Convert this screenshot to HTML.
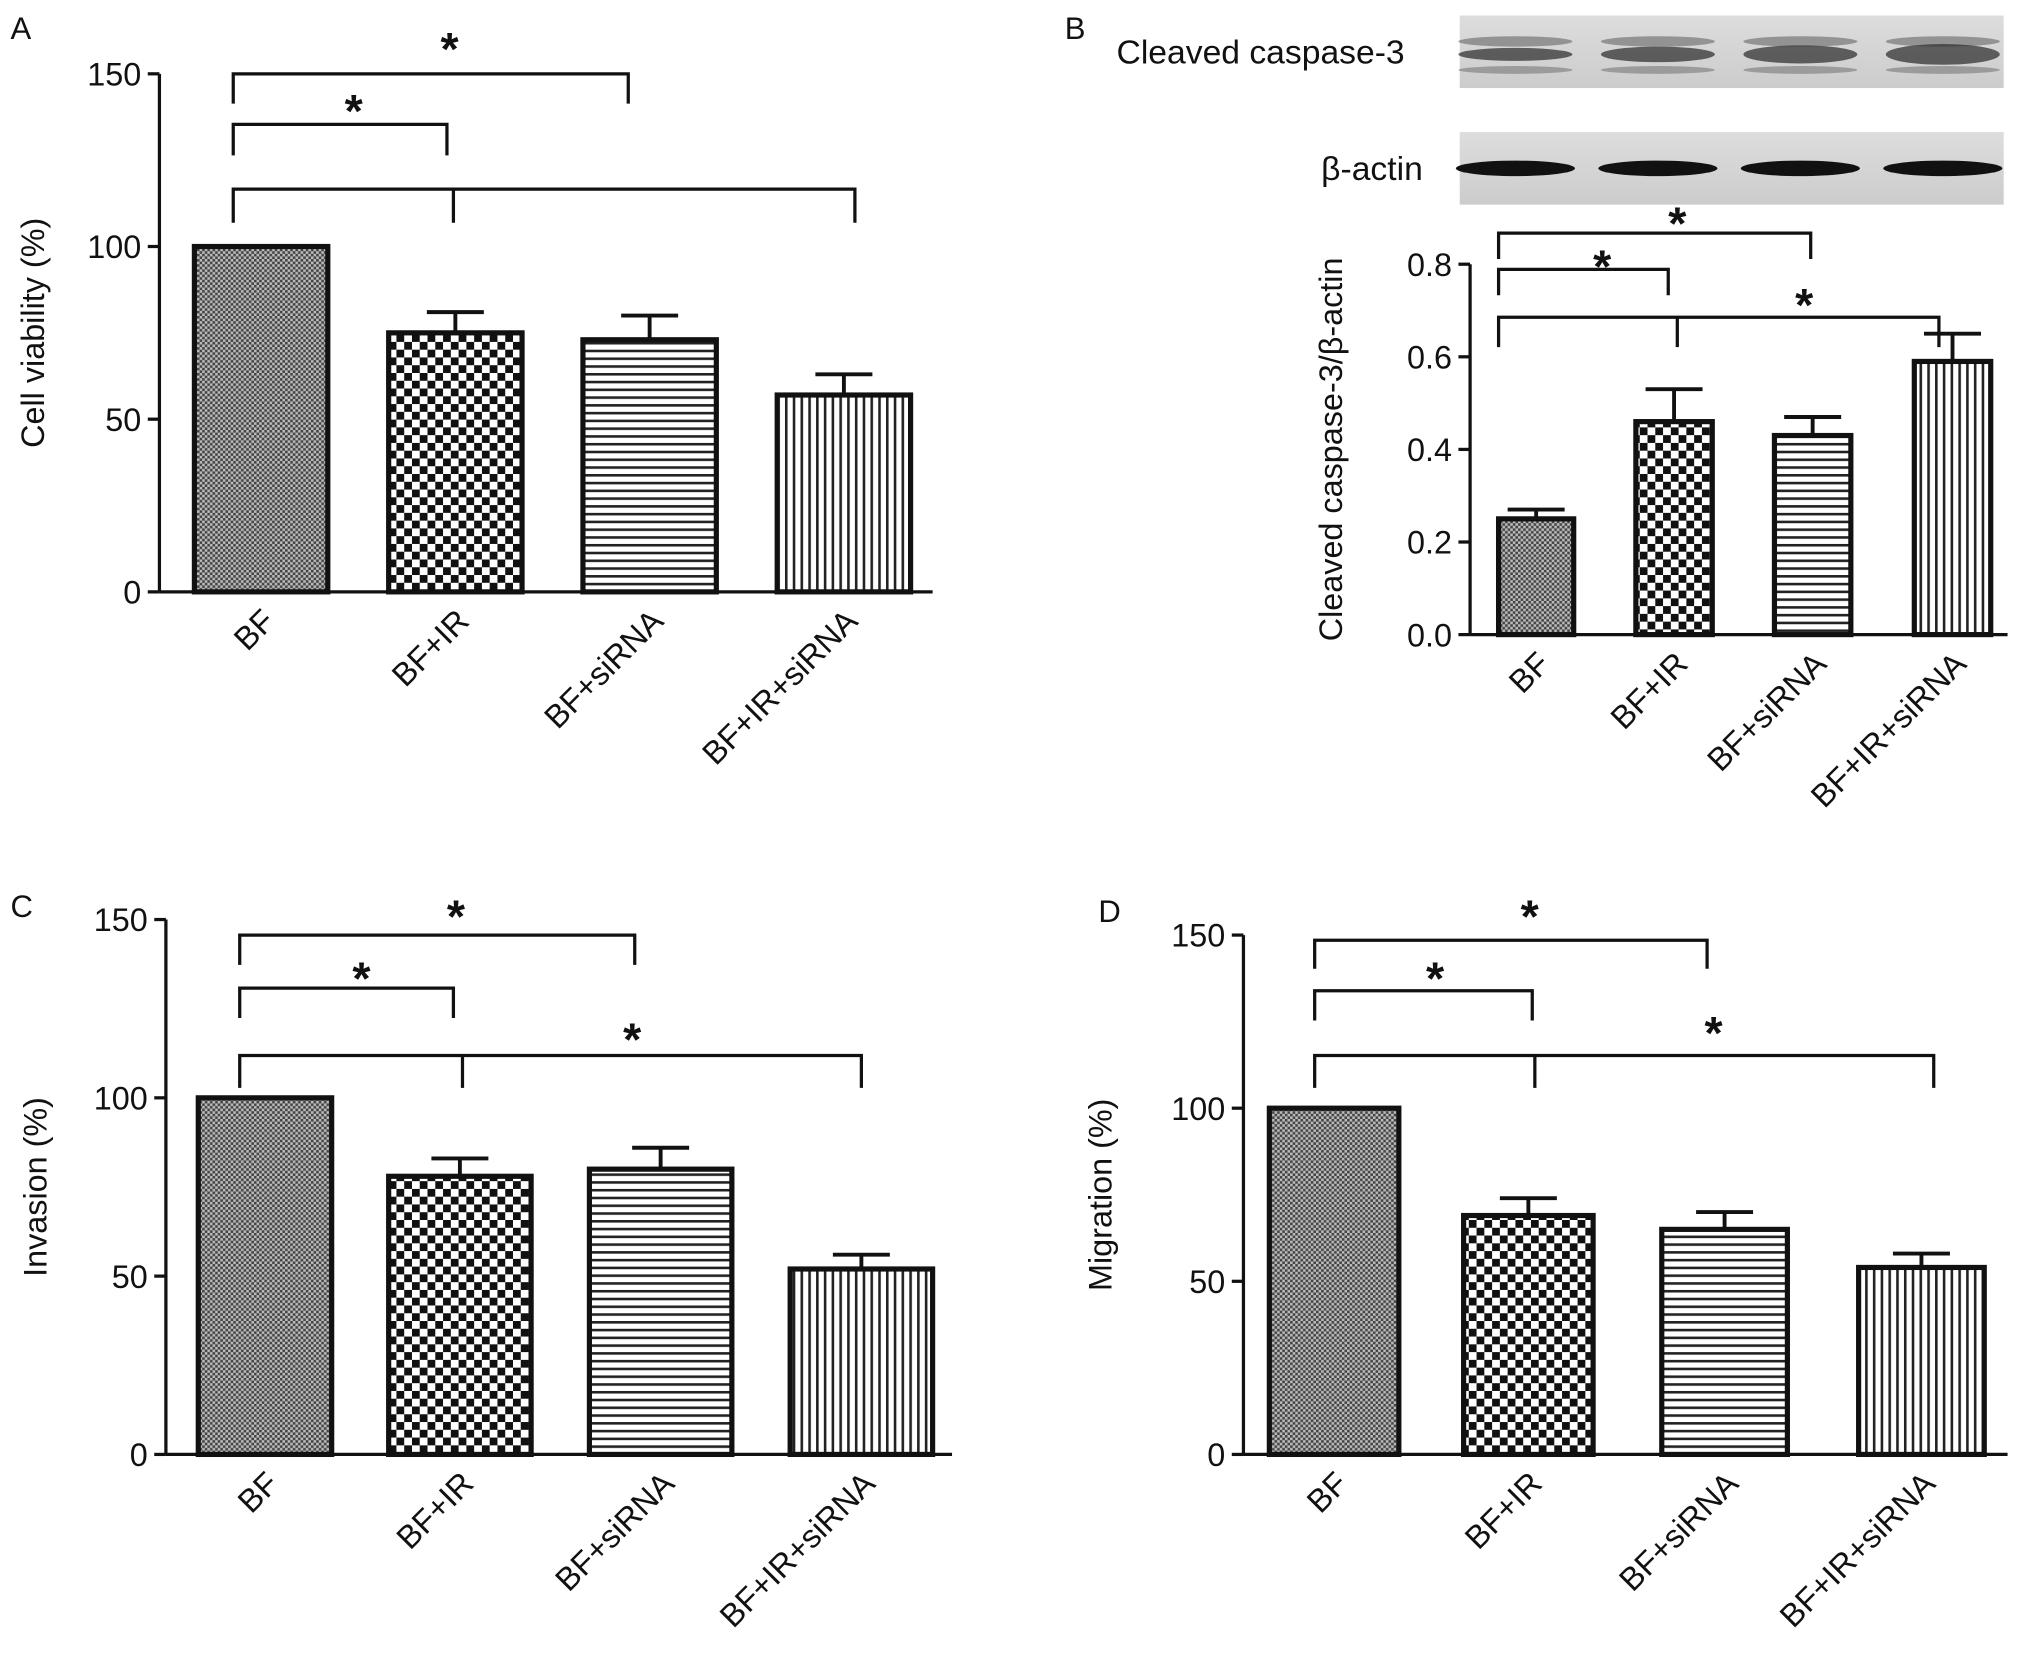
<!DOCTYPE html>
<html><head><meta charset="utf-8"><style>
html,body{margin:0;padding:0;background:#fff}
svg{display:block}
text{font-family:"Liberation Sans",sans-serif;fill:#111}
</style></head><body>
<svg id="fig" width="2031" height="1672" viewBox="0 0 1568 1291" xmlns="http://www.w3.org/2000/svg">
<defs>
<pattern id="p0" width="4" height="4" patternUnits="userSpaceOnUse"><rect width="4" height="4" fill="#bbb"/><rect width="2" height="2" fill="#444"/><rect x="2" y="2" width="2" height="2" fill="#444"/></pattern>
<pattern id="p1" width="12" height="12" patternUnits="userSpaceOnUse"><rect width="12" height="12" fill="#fff"/><rect width="6" height="6" fill="#111"/><rect x="6" y="6" width="6" height="6" fill="#111"/></pattern>
<pattern id="p2" width="6" height="6" patternUnits="userSpaceOnUse"><rect width="6" height="6" fill="#fff"/><rect width="6" height="2" fill="#222"/></pattern>
<pattern id="p3" width="6" height="6" patternUnits="userSpaceOnUse"><rect width="6" height="6" fill="#fff"/><rect width="2" height="6" fill="#222"/></pattern>
<linearGradient id="blot" x1="0" y1="0" x2="0" y2="1"><stop offset="0" stop-color="#ddd"/><stop offset="1" stop-color="#ccc"/></linearGradient>
</defs>
<g id="root"></g>
</svg>
<script>
const categories=["BF","BF+IR","BF+siRNA","BF+IR+siRNA"];
const valuesA=[100,75,73,57];
const errorsA=[0,81,80,63];
const valuesB=[0.25,0.46,0.43,0.59];
const errorsB=[0.27,0.53,0.47,0.65];
const valuesC=[100,78,80,52];
const errorsC=[0,83,86,56];
const valuesD=[100,69,65,54];
const errorsD=[0,74,70,58];
const ticksPct=[0,50,100,150];
const ticksB=["0.0","0.2","0.4","0.6","0.8"];

const NS="http://www.w3.org/2000/svg";
const root=document.getElementById('root');
function mk(tag,attrs,parent,txt){const e=document.createElementNS(NS,tag);for(const k in attrs)e.setAttribute(k,attrs[k]);if(txt!==undefined)e.textContent=txt;(parent||root).appendChild(e);return e;}

const panels=[
 {id:'a',letter:'A',lx:8,ly:30,ax:123,y0:457,y1:57,vmax:150,ticks:ticksPct,tl:ticksPct.map(String),vals:valuesA,errs:errorsA,bars:[[150,253],[300,403],[450,553],[600,703]],xend:720,title:'Cell viability (%)',tx:34,
  br:[[57,180,485,80,null,347,30],[96,180,345,120,null,273,78],[146,180,660,172,350,null,null]]},
 {id:'b',letter:'B',lx:822,ly:30,ax:1135,y0:490,y1:204,vmax:0.8,ticks:[0,0.2,0.4,0.6,0.8],tl:ticksB,vals:valuesB,errs:errorsB,bars:[[1157,1215],[1263,1322],[1370,1429],[1478,1537]],xend:1550,title:'Cleaved caspase-3/β-actin',tx:1036,
  br:[[180,1157,1398,200,null,1295,165],[208,1157,1288,228,null,1237,198],[245,1157,1497,268,1295,1393,228]]},
 {id:'c',letter:'C',lx:8,ly:708,ax:128,y0:1123,y1:710,vmax:150,ticks:ticksPct,tl:ticksPct.map(String),vals:valuesC,errs:errorsC,bars:[[153,256],[300,410],[455,565],[610,720]],xend:735,title:'Invasion (%)',tx:36,
  br:[[722,185,490,745,null,352,700],[763,185,350,786,null,279,748],[815,185,665,840,357,488,795]]},
 {id:'d',letter:'D',lx:848,ly:712,ax:960,y0:1123,y1:722,vmax:150,ticks:ticksPct,tl:ticksPct.map(String),vals:valuesD,errs:errorsD,bars:[[980,1080],[1130,1230],[1283,1380],[1435,1532]],xend:1550,title:'Migration (%)',tx:858,
  br:[[726,1015,1318,748,null,1181,700],[765,1015,1183,788,null,1108,748],[815,1015,1493,840,1185,1323,790]]}
];

panels.forEach(p=>{
 const g=mk('g',{});
 
 
 const yS=v=>p.y0-(v/p.vmax)*(p.y0-p.y1);
 const lt=mk('text',{x:p.lx,y:p.ly,'font-size':24},g,p.letter);
 
 
 const ya=mk('line',{x1:p.ax,y1:p.y1,x2:p.ax,y2:p.y0,stroke:'#111','stroke-width':2.5},g);
 
 
 const xa=mk('line',{x1:p.ax,y1:p.y0,x2:p.xend,y2:p.y0,stroke:'#111','stroke-width':2.5},g);
 
 
 p.ticks.forEach((t,i)=>{
  const y=yS(t);
  mk('line',{x1:p.ax-9,y1:y,x2:p.ax,y2:y,stroke:'#111','stroke-width':2.5},g);
  const tt=mk('text',{x:p.ax-14,y:y+9,'font-size':25,'text-anchor':'end'},g,p.tl[i]);
  
  
 });
 const cy=(p.y0+p.y1)/2;
 const yt=mk('text',{x:p.tx,y:cy,'font-size':25,'text-anchor':'middle',transform:`rotate(-90 ${p.tx} ${cy})`},g,p.title);
 
 
 p.vals.forEach((v,i)=>{
  const [x0,x1]=p.bars[i];const xm=(x0+x1)/2;
  if(p.errs[i]>v){
   const ey=yS(p.errs[i]);
   mk('line',{x1:xm,y1:ey,x2:xm,y2:yS(v),stroke:'#111','stroke-width':3},g);
   mk('line',{x1:xm-22,y1:ey,x2:xm+22,y2:ey,stroke:'#111','stroke-width':3},g);
  }
  const r=mk('rect',{x:x0,y:yS(v),width:x1-x0,height:p.y0-yS(v),fill:`url(#p${i})`,stroke:'#111','stroke-width':4},g);
  
  
  const lx=xm+12,ly=p.y0+24;
  const xl=mk('text',{x:lx,y:ly,'font-size':25,'text-anchor':'end',transform:`rotate(-45 ${lx} ${ly})`},g,categories[i]);
  
  
 });
 p.br.forEach(b=>{
  const [y,xa0,xa1,yd,mid,sx,sy]=b;
  const bg=mk('g',{stroke:'#111','stroke-width':2.5,fill:'none'},g);
  
  
  mk('path',{d:`M${xa0},${yd} V${y} H${xa1} V${yd}`},bg);
  if(mid)mk('line',{x1:mid,y1:y,x2:mid,y2:yd},bg);
  if(sx){const s=mk('text',{x:sx,y:sy+20,'font-size':36,'font-weight':'bold','text-anchor':'middle'},g,'*');
   
   }
 });
});

[[12,68,'Cleaved caspase-3',862,'cleaved-caspase-blot'],[102,158,'β-actin',1020,'beta-actin-blot']].forEach((b,k)=>{
 const g=mk('g',{});
 
 
 mk('rect',{x:1127,y:b[0],width:420,height:b[1]-b[0],fill:'url(#blot)'},g);
 [1170,1280,1390,1500].forEach((x,i)=>{
  const cyb=(b[0]+b[1])/2;
  if(k===0){
   mk('ellipse',{cx:x,cy:cyb-8,rx:44,ry:4,fill:'#666',opacity:0.6},g);
   mk('ellipse',{cx:x,cy:cyb+2,rx:44,ry:5+i,fill:'#333',opacity:0.75},g);
   mk('ellipse',{cx:x,cy:cyb+14,rx:44,ry:3,fill:'#666',opacity:0.5},g);
  } else mk('ellipse',{cx:x,cy:cyb,rx:46,ry:6,fill:'#111'},g);
 });
 const t=mk('text',{x:b[3],y:(b[0]+b[1])/2+9,'font-size':26},g,b[2]);
 
 
});
</script>
</body></html>
